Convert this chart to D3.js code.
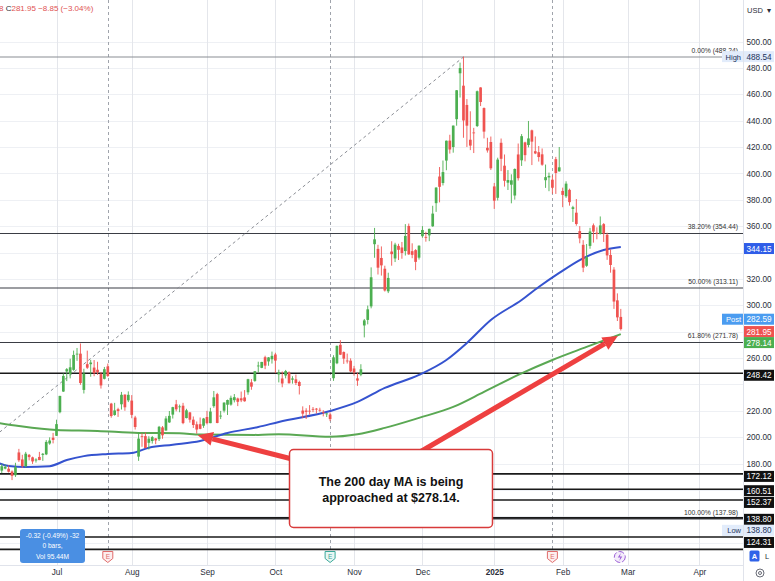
<!DOCTYPE html>
<html>
<head>
<meta charset="utf-8">
<script src="https://cdn.jsdelivr.net/npm/d3@7"></script>
<style>
body { margin: 0; background: #fff; }
svg { display: block; font-family: "Liberation Sans", Arial, sans-serif; }
</style>
</head>
<body>
<svg width="775" height="581"></svg>
<script>
// daily candles: date, open, high, low, close
var candles = [
	['2024-06-05',175.35,176.15,172.13,175.00],['2024-06-06',174.60,179.73,172.73,177.94],['2024-06-07',176.13,179.35,175.58,177.48],
	['2024-06-10',176.06,178.57,173.17,173.79],['2024-06-11',173.92,174.75,167.41,170.66],['2024-06-12',171.12,180.55,169.80,177.29],
	['2024-06-13',188.39,191.08,181.23,182.47],['2024-06-14',183.08,186.61,176.67,178.01],['2024-06-17',177.92,188.81,177.00,187.44],
	['2024-06-18',186.56,187.20,182.37,184.86],['2024-06-20',184.68,185.21,179.66,181.57],['2024-06-21',182.30,183.95,180.69,183.01],
	['2024-06-24',184.97,188.80,182.57,182.58],['2024-06-25',186.54,187.97,182.01,187.35],['2024-06-26',186.92,197.76,186.36,196.37],
	['2024-06-27',195.17,199.84,194.20,197.42],['2024-06-28',199.55,203.20,195.26,197.88],
	['2024-07-01',201.02,213.23,200.85,209.86],['2024-07-02',218.89,231.30,218.06,231.26],['2024-07-03',234.56,248.35,234.25,246.39],
	['2024-07-05',249.81,252.37,242.46,251.52],['2024-07-08',247.71,259.44,244.57,252.94],['2024-07-09',251.00,265.61,250.30,262.33],
	['2024-07-10',262.80,267.59,257.86,263.26],['2024-07-11',263.30,271.00,239.65,241.03],['2024-07-12',235.80,251.84,233.09,248.23],
	['2024-07-15',255.31,265.60,251.73,252.64],['2024-07-16',255.31,258.62,245.80,256.56],['2024-07-17',252.73,258.47,246.18,248.50],
	['2024-07-18',251.09,257.14,247.20,249.23],['2024-07-19',247.79,249.44,236.83,239.20],['2024-07-22',244.21,253.21,243.75,251.51],
	['2024-07-23',253.60,255.76,245.63,246.38],['2024-07-24',225.42,225.99,214.71,215.99],['2024-07-25',216.80,226.00,216.23,220.25],
	['2024-07-26',221.19,222.28,215.33,219.80],['2024-07-29',224.90,234.27,220.91,232.10],['2024-07-30',232.25,232.41,220.00,222.62],
	['2024-07-31',227.90,234.68,226.56,232.07],
	['2024-08-01',227.69,231.87,214.33,216.86],['2024-08-02',214.88,216.13,205.78,207.67],['2024-08-05',185.22,203.88,182.00,198.88],
	['2024-08-06',200.75,202.90,192.67,200.64],['2024-08-07',200.77,203.49,191.48,191.76],['2024-08-08',195.70,200.70,190.60,198.84],
	['2024-08-09',197.05,200.88,195.11,200.00],['2024-08-12',199.02,199.26,194.67,197.49],['2024-08-13',198.47,208.49,197.06,207.83],
	['2024-08-14',207.39,208.44,198.75,201.38],['2024-08-15',205.02,215.88,204.82,214.14],['2024-08-16',211.15,219.80,210.80,216.12],
	['2024-08-19',217.07,222.98,214.09,222.72],['2024-08-20',224.88,228.22,219.56,221.10],['2024-08-21',222.67,224.66,218.86,223.27],
	['2024-08-22',223.82,225.99,209.80,210.66],['2024-08-23',214.46,221.48,214.21,220.32],['2024-08-26',218.75,219.09,211.01,213.21],
	['2024-08-27',213.25,215.66,206.94,209.21],['2024-08-28',209.72,211.84,202.59,205.75],['2024-08-29',209.80,214.89,205.97,206.28],
	['2024-08-30',208.63,214.57,207.03,214.11],
	['2024-09-03',215.26,219.90,209.64,210.60],['2024-09-04',210.59,222.22,210.57,219.41],['2024-09-05',223.49,235.00,222.25,230.17],
	['2024-09-06',232.60,233.60,210.51,210.73],['2024-09-09',216.20,219.87,213.67,216.27],['2024-09-10',220.07,226.40,218.64,226.17],
	['2024-09-11',224.55,228.47,216.80,228.13],['2024-09-12',224.66,231.45,223.83,229.81],['2024-09-13',228.00,232.67,226.32,230.29],
	['2024-09-16',229.30,229.96,223.53,226.78],['2024-09-17',229.45,234.57,226.55,227.87],['2024-09-18',230.09,235.68,226.88,227.20],
	['2024-09-19',234.00,244.24,232.13,243.92],['2024-09-20',241.52,243.99,235.92,238.25],['2024-09-23',242.61,250.00,241.92,250.00],
	['2024-09-24',254.08,257.19,249.05,254.27],['2024-09-25',252.54,257.05,252.28,257.02],['2024-09-26',260.60,261.75,251.53,254.22],
	['2024-09-27',257.38,260.70,254.12,260.46],['2024-09-30',259.04,264.86,255.77,261.63],
	['2024-10-01',262.67,263.98,248.53,258.02],['2024-10-02',247.55,251.16,241.50,249.02],['2024-10-03',244.48,249.79,237.81,240.66],
	['2024-10-04',246.69,250.96,244.58,250.08],['2024-10-07',249.00,249.83,240.70,240.83],['2024-10-08',243.56,246.21,240.56,244.50],
	['2024-10-09',243.82,247.43,239.51,241.05],['2024-10-10',241.81,242.79,232.34,238.77],['2024-10-11',220.13,223.34,214.38,217.80],
	['2024-10-14',220.13,221.91,213.74,219.16],['2024-10-15',220.01,224.26,217.12,219.57],['2024-10-16',221.40,222.82,218.93,221.33],
	['2024-10-17',221.59,222.08,217.90,220.89],['2024-10-18',220.71,222.28,219.23,220.70],['2024-10-21',218.90,220.48,215.73,218.85],
	['2024-10-22',217.31,218.22,215.26,217.97],['2024-10-23',217.13,218.72,212.11,213.65],['2024-10-24',244.68,262.12,242.65,260.48],
	['2024-10-25',256.01,269.49,255.32,269.19],['2024-10-28',270.00,273.54,262.24,262.51],['2024-10-29',264.51,264.98,255.51,259.52],
	['2024-10-30',258.04,263.35,255.82,257.55],['2024-10-31',257.99,259.75,249.25,249.85],
	['2024-11-01',252.04,254.00,246.63,248.98],['2024-11-04',244.56,248.90,238.88,242.84],['2024-11-05',247.34,255.28,246.21,251.44],
	['2024-11-06',284.67,289.59,275.62,288.53],['2024-11-07',288.89,299.75,285.52,296.91],['2024-11-08',299.14,328.71,297.66,321.22],
	['2024-11-11',346.30,358.64,336.00,350.00],['2024-11-12',342.74,345.84,323.31,328.49],['2024-11-13',335.85,344.60,322.50,330.24],
	['2024-11-14',327.69,329.98,310.37,311.18],['2024-11-15',310.57,324.68,309.22,320.72],['2024-11-18',340.73,348.55,330.01,338.74],
	['2024-11-19',335.50,347.38,332.75,346.00],['2024-11-20',345.00,346.60,334.30,342.03],['2024-11-21',343.81,347.99,335.28,339.64],
	['2024-11-22',341.09,361.53,337.70,352.56],['2024-11-25',360.14,361.93,338.20,338.59],['2024-11-26',341.00,346.96,335.66,338.23],
	['2024-11-27',341.80,342.55,326.59,332.89],['2024-11-29',336.08,345.45,334.65,345.16],
	['2024-12-02',352.38,360.00,351.15,357.09],['2024-12-03',351.80,355.69,348.20,351.42],['2024-12-04',353.00,358.10,348.60,357.93],
	['2024-12-05',359.87,375.43,359.50,369.49],['2024-12-06',377.42,389.49,370.80,389.22],['2024-12-09',397.61,404.80,378.01,389.79],
	['2024-12-10',392.68,409.73,390.85,400.99],['2024-12-11',409.70,424.88,402.38,424.77],['2024-12-12',424.84,429.30,415.00,418.10],
	['2024-12-13',420.00,436.30,415.71,436.23],['2024-12-16',441.09,463.19,436.15,463.02],['2024-12-17',475.90,483.99,457.51,479.86],
	['2024-12-18',466.50,488.54,427.01,440.13],['2024-12-19',451.88,456.36,420.02,436.17],['2024-12-20',425.51,447.08,417.64,421.06],
	['2024-12-23',431.00,434.51,415.41,430.60],['2024-12-24',435.90,462.78,435.14,462.28],['2024-12-26',465.16,465.33,451.02,454.13],
	['2024-12-27',449.52,450.00,426.50,431.66],['2024-12-30',419.40,427.00,415.75,417.41],['2024-12-31',423.79,427.93,402.54,403.84],
	['2025-01-02',390.10,392.73,373.04,379.28],['2025-01-03',381.48,411.88,379.45,410.44],['2025-01-06',423.20,426.43,401.70,411.05],
	['2025-01-07',405.83,414.33,390.00,394.36],['2025-01-08',392.95,402.50,387.40,394.94],['2025-01-10',391.40,399.28,377.29,394.74],
	['2025-01-13',383.21,403.79,380.07,403.31],['2025-01-14',414.34,422.64,394.54,396.36],['2025-01-15',409.90,429.80,405.66,428.22],
	['2025-01-16',423.49,424.00,409.13,413.82],['2025-01-17',421.50,439.74,419.75,426.50],['2025-01-21',432.64,433.20,406.31,424.07],
	['2025-01-22',416.81,428.00,414.59,415.11],['2025-01-23',416.06,420.73,408.95,412.38],['2025-01-24',414.45,418.88,405.78,406.58],
	['2025-01-27',394.80,406.69,389.00,397.15],['2025-01-28',396.91,400.59,386.50,398.09],['2025-01-29',395.21,398.59,384.48,389.10],
	['2025-01-30',410.78,412.50,384.41,400.28],['2025-01-31',401.53,419.99,401.34,404.60],
	['2025-02-03',386.68,389.17,374.36,383.68],['2025-02-04',382.63,394.00,381.40,392.21],['2025-02-05',387.51,388.39,375.53,378.17],
	['2025-02-06',373.03,375.40,363.18,374.32],['2025-02-07',370.19,380.55,360.34,361.62],['2025-02-10',356.21,360.00,347.00,350.73],
	['2025-02-11',345.80,349.37,325.10,328.50],['2025-02-12',329.94,346.40,329.12,336.51],['2025-02-13',345.00,358.69,342.85,355.94],
	['2025-02-14',360.62,362.00,347.50,355.84],['2025-02-18',355.01,359.10,350.02,354.11],['2025-02-19',354.00,367.34,353.67,360.56],
	['2025-02-20',361.51,362.30,348.00,354.40],['2025-02-21',353.44,354.98,334.42,337.80],['2025-02-24',338.14,342.40,324.70,330.53],
	['2025-02-25',327.02,328.89,297.25,302.80],['2025-02-26',303.71,309.00,288.04,290.80],['2025-02-27',291.16,297.23,280.88,281.95]
];

// moving averages: [date, value]
var ma100 = [
	['2024-06-05',180.4],['2024-06-10',178.1],['2024-06-17',177.4],['2024-06-27',178.0],['2024-07-05',182.6],
	['2024-07-12',185.6],['2024-07-23',187.2],['2024-08-01',188.0],['2024-08-08',192.0],['2024-08-19',194.3],
	['2024-08-29',197.1],['2024-09-11',203.2],['2024-09-24',207.7],['2024-10-02',211.5],['2024-10-23',219.8],
	['2024-11-04',226.7],['2024-11-14',237.3],['2024-11-29',247.2],['2024-12-11',258.5],['2024-12-19',271.4],
	['2024-12-31',288.8],['2025-01-15',304.0],['2025-01-23',313.8],['2025-01-31',324.5],['2025-02-10',334.3],
	['2025-02-20',341.9],['2025-02-27',344.15]
];
var ma200 = [
	['2024-06-05',210.7],['2024-06-13',208.4],['2024-07-01',205.4],['2024-07-18',204.7],['2024-08-05',203.2],
	['2024-08-21',203.0],['2024-08-29',201.9],['2024-09-24',201.7],['2024-10-02',202.2],['2024-10-23',200.3],
	['2024-11-04',202.2],['2024-11-14',207.0],['2024-11-29',214.6],['2024-12-13',222.9],['2024-12-27',234.3],
	['2025-01-14',247.2],['2025-01-29',258.5],['2025-02-12',268.4],['2025-02-27',278.14]
];

var postPrice = 282.59;
var highPrice = 488.54;
var lowPrice = 138.80;
var fibHigh = 488.24, fibLow = 137.98;
var fibLowDate = '2024-04-22', fibHighDate = '2024-12-18';
var fibLevels = [0, 0.382, 0.5, 0.618, 1];
var userLines = [248.42, 172.12, 160.51, 152.37, 138.80, 124.31, 114.9];
var earnings = ['2024-07-23', '2024-10-23', '2025-01-29'];
var earningsColor = ['#e06c6c', '#3aa99a', '#e06c6c'];
var priceTicks = [120, 140, 160, 180, 200, 220, 240, 260, 280, 300, 320, 340, 360, 380, 400, 420, 440, 460, 480, 500];
var monthStarts = ['2024-07-01','2024-08-01','2024-09-03','2024-10-01','2024-11-01','2024-12-02','2025-01-02','2025-02-03','2025-03-03','2025-04-01'];
var monthLabels = ['Jul','Aug','Sep','Oct','Nov','Dec','2025','Feb','Mar','Apr'];
var holidays = ['2024-05-27','2024-06-19','2024-07-04','2024-09-02','2024-11-28','2024-12-25','2025-01-01','2025-01-09','2025-01-20','2025-02-17','2025-04-18'];

var svg = d3.select('svg');
var plotW = 743.5, plotH = 565.5;
var upColor = '#4caf50', downColor = '#ef5350';

var parse = d3.utcParse('%Y-%m-%d');
var fmtDay = d3.utcFormat('%Y-%m-%d');
var origin = parse('2024-07-01');

// bar index counted in trading days from Jul 1
function tradingIndex(s) {
	var t = parse(s);
	var days = t >= origin ? d3.utcDay.range(origin, t) : d3.utcDay.range(t, origin);
	var n = 0;
	days.forEach(function (d) {
		var w = d.getUTCDay();
		if (w > 0 && w < 6 && holidays.indexOf(fmtDay(d)) < 0) n++;
	});
	return t >= origin ? n : -n;
}

var x = d3.scaleLinear().domain([0, 165]).range([56.5, 620.8]);
var y = d3.scaleLinear().domain([500, 180]).range([41.5, 463.5]);
var f2 = d3.format('.2f');

// grid
var grid = svg.append('g');
grid.selectAll('.hg').data(priceTicks).enter().append('line')
	.attr('x1', 0).attr('x2', plotW)
	.attr('y1', function (d) { return Math.round(y(d)) + 0.5; })
	.attr('y2', function (d) { return Math.round(y(d)) + 0.5; })
	.attr('stroke', '#eef0f4');
grid.selectAll('.vg').data(monthStarts).enter().append('line')
	.attr('x1', function (d) { return Math.round(x(tradingIndex(d))) + 0.5; })
	.attr('x2', function (d) { return Math.round(x(tradingIndex(d))) + 0.5; })
	.attr('y1', 0).attr('y2', plotH)
	.attr('stroke', '#e4e6eb');
grid.selectAll('.eg').data(earnings).enter().append('line')
	.attr('x1', function (d) { return Math.round(x(tradingIndex(d))) + 0.5; })
	.attr('x2', function (d) { return Math.round(x(tradingIndex(d))) + 0.5; })
	.attr('y1', 0).attr('y2', 550)
	.attr('stroke', '#a0a4ac').attr('stroke-dasharray', '3,3');

var plot = svg.append('g');

// fibonacci levels
fibLevels.forEach(function (lv) {
	var p = fibHigh - lv * (fibHigh - fibLow);
	plot.append('line').attr('x1', 0).attr('x2', plotW)
		.attr('y1', y(p)).attr('y2', y(p))
		.attr('stroke', lv === 0 ? '#8a8d94' : '#3a3d44').attr('stroke-width', 1.1);
	plot.append('text').attr('x', 738).attr('y', y(p) - 4)
		.attr('text-anchor', 'end').attr('font-size', 6.8).attr('fill', '#333')
		.text(f2(lv * 100) + '% (' + f2(p) + ')');
});

// trend line low -> high
plot.append('line')
	.attr('x1', x(tradingIndex(fibLowDate))).attr('y1', y(fibLow))
	.attr('x2', x(tradingIndex(fibHighDate))).attr('y2', y(fibHigh))
	.attr('stroke', '#8a8d94').attr('stroke-width', 1).attr('stroke-dasharray', '3,3');

// horizontal levels
plot.selectAll('.ul').data(userLines).enter().append('line')
	.attr('x1', 0).attr('x2', plotW)
	.attr('y1', function (d) { return y(d); }).attr('y2', function (d) { return y(d); })
	.attr('stroke', '#1a1a1a').attr('stroke-width', 1.6);

// moving averages
var maLine = d3.line()
	.x(function (d) { return x(tradingIndex(d[0])); })
	.y(function (d) { return y(d[1]); })
	.curve(d3.curveMonotoneX);
plot.append('path').attr('d', maLine(ma200)).attr('fill', 'none').attr('stroke', '#5aa853').attr('stroke-width', 2);
plot.append('path').attr('d', maLine(ma100)).attr('fill', 'none').attr('stroke', '#3553cf').attr('stroke-width', 2);

// candles
var cg = plot.selectAll('.candle').data(candles).enter().append('g')
	.attr('transform', function (d) { return 'translate(' + x(tradingIndex(d[0])) + ',0)'; });
cg.append('line')
	.attr('y1', function (d) { return y(d[2]); }).attr('y2', function (d) { return y(d[3]); })
	.attr('stroke', function (d) { return d[4] >= d[1] ? upColor : downColor; }).attr('stroke-width', 0.9);
cg.append('rect')
	.attr('x', -1.35).attr('width', 2.7)
	.attr('y', function (d) { return y(Math.max(d[1], d[4])); })
	.attr('height', function (d) { return Math.max(0.8, Math.abs(y(d[1]) - y(d[4]))); })
	.attr('fill', function (d) { return d[4] >= d[1] ? upColor : downColor; });

// arrows + note
function arrow(x1, y1, x2, y2) {
	var dx = x2 - x1, dy = y2 - y1, len = Math.sqrt(dx * dx + dy * dy);
	var ux = dx / len, uy = dy / len, hl = 15, hw = 7;
	var bx = x2 - ux * hl, by = y2 - uy * hl;
	plot.append('line').attr('x1', x1).attr('y1', y1).attr('x2', bx).attr('y2', by)
		.attr('stroke', '#ee4040').attr('stroke-width', 5);
	plot.append('path')
		.attr('d', 'M' + x2 + ',' + y2 + 'L' + (bx - uy * hw) + ',' + (by + ux * hw) + 'L' + (bx + uy * hw) + ',' + (by - ux * hw) + 'Z')
		.attr('fill', '#ee4040');
}
var lastIdx = tradingIndex(candles[candles.length - 1][0]);
arrow(420, 452, x(lastIdx) - 3, y(ma200[ma200.length - 1][1]) + 2);
arrow(292, 459, x(tradingIndex('2024-08-28')) + 1, y(201.5));

plot.append('rect').attr('x', 289.5).attr('y', 449.5).attr('width', 203).attr('height', 78).attr('rx', 4)
	.attr('fill', '#fff').attr('stroke', '#d83a3a').attr('stroke-width', 1.5);
plot.append('text').attr('x', 391).attr('y', 486).attr('text-anchor', 'middle')
	.attr('font-size', 12.5).attr('font-weight', 'bold').attr('fill', '#111').text('The 200 day MA is being');
plot.append('text').attr('x', 391).attr('y', 502).attr('text-anchor', 'middle')
	.attr('font-size', 12.5).attr('font-weight', 'bold').attr('fill', '#111').text('approached at $278.14.');

// axes borders
svg.append('line').attr('x1', plotW).attr('x2', plotW).attr('y1', 0).attr('y2', 581).attr('stroke', '#e0e3eb');
svg.append('line').attr('x1', 0).attr('x2', plotW).attr('y1', plotH).attr('y2', plotH).attr('stroke', '#e0e3eb');

// axis tags (value labels on the price scale)
var lastClose = candles[candles.length - 1][4];
var tags = [
	{ v: highPrice, bg: '#e2ecfb', fg: '#22335a', side: 'High', dy: 0 },
	{ v: ma100[ma100.length - 1][1], bg: '#2f5de8', fg: '#fff', dy: 1.5 },
	{ v: postPrice, bg: '#4b9cf0', fg: '#fff', side: 'Post', sideBg: '#4b9cf0', sideFg: '#fff', dy: -9 },
	{ v: lastClose, bg: '#ef5350', fg: '#fff', dy: 2.5 },
	{ v: ma200[ma200.length - 1][1], bg: '#4caf50', fg: '#fff', dy: 8.5 },
	{ v: 248.42, bg: '#111', fg: '#fff', dy: 2 },
	{ v: 172.12, bg: '#111', fg: '#fff', dy: 2.5 },
	{ v: 160.51, bg: '#111', fg: '#fff', dy: 1.5 },
	{ v: 152.37, bg: '#111', fg: '#fff', dy: 2.5 },
	{ v: 138.80, bg: '#111', fg: '#fff', dy: 1.5 },
	{ v: lowPrice, bg: '#e2ecfb', fg: '#22335a', side: 'Low', dy: 12.5 },
	{ v: 124.31, bg: '#111', fg: '#fff', dy: 5.5 }
];
tags.forEach(function (t) { t.y = y(t.v) + t.dy; });

// price axis
var yAxis = d3.axisRight(y).tickValues(priceTicks.filter(function (p) {
	return y(p) < 548 && tags.every(function (t) { return Math.abs(t.y - y(p)) > 10; });
})).tickSize(0).tickPadding(0).tickFormat(f2);
var ya = svg.append('g').attr('transform', 'translate(759,0)').call(yAxis);
ya.select('.domain').remove();
ya.selectAll('text').attr('text-anchor', 'middle').attr('font-size', 8.2).attr('fill', '#2a2e39')
	.attr('font-family', '"Liberation Sans", Arial, sans-serif');

var tg = svg.selectAll('.tag').data(tags).enter().append('g');
tg.append('rect').attr('x', 744).attr('width', 30).attr('height', 11)
	.attr('y', function (t) { return t.y - 5.5; }).attr('fill', function (t) { return t.bg; });
tg.append('text').attr('x', 759).attr('y', function (t) { return t.y + 3; })
	.attr('text-anchor', 'middle').attr('font-size', 8.2).attr('fill', function (t) { return t.fg; })
	.text(function (t) { return f2(t.v); });
tg.filter(function (t) { return t.side; }).append('rect')
	.attr('x', 722).attr('width', 21).attr('height', 11).attr('y', function (t) { return t.y - 5.5; })
	.attr('fill', function (t) { return t.sideBg || t.bg; });
tg.filter(function (t) { return t.side; }).append('text')
	.attr('x', 741).attr('y', function (t) { return t.y + 3; }).attr('text-anchor', 'end')
	.attr('font-size', 7.5).attr('fill', function (t) { return t.sideFg || t.fg; })
	.text(function (t) { return t.side; });

// time axis
var xAxis = d3.axisBottom(x).tickValues(monthStarts.map(tradingIndex))
	.tickSize(0).tickPadding(0).tickFormat(function (d, i) { return monthLabels[i]; });
var xa = svg.append('g').attr('transform', 'translate(0,569)').call(xAxis);
xa.select('.domain').remove();
xa.selectAll('text').attr('font-size', 8.2).attr('fill', '#2a2e39')
	.attr('font-family', '"Liberation Sans", Arial, sans-serif')
	.attr('font-weight', function (d, i) { return monthLabels[i] === '2025' ? 'bold' : 'normal'; });

// event markers
earnings.forEach(function (d, i) {
	var cx = x(tradingIndex(d)), c = earningsColor[i];
	svg.append('path').attr('d', 'M' + (cx - 5) + ',551.5h10v7l-5,4l-5,-4z')
		.attr('fill', i === 1 ? '#e8f6f3' : '#fdeeee').attr('stroke', c).attr('stroke-width', 1);
	svg.append('text').attr('x', cx).attr('y', 559).attr('text-anchor', 'middle')
		.attr('font-size', 6.5).attr('fill', c).text('E');
});
var dvx = x(lastIdx) - 1;
svg.append('circle').attr('cx', dvx).attr('cy', 557).attr('r', 5.5)
	.attr('fill', '#f4ecfb').attr('stroke', '#9b5fd6').attr('stroke-width', 1).attr('stroke-dasharray', '6,2');
svg.append('path').attr('d', 'M' + (dvx + 1) + ',553l-3,4.5h2.5l-1,3.5l3,-4.5h-2.5z').attr('fill', '#9b5fd6');

// info box
var ib = svg.append('g');
ib.append('rect').attr('x', 20).attr('y', 529).attr('width', 65).attr('height', 34).attr('rx', 3).attr('fill', '#4a8fe3');
['-0.32 (-0.49%) -32', '0 bars,', 'Vol 95.44M'].forEach(function (s, i) {
	ib.append('text').attr('x', 52.5).attr('y', 537.5 + i * 10.5).attr('text-anchor', 'middle')
		.attr('font-size', 6.6).attr('fill', '#fff').text(s);
});

// legend / header text
var hd = svg.append('text').attr('x', -1).attr('y', 11).attr('font-size', 8);
hd.append('tspan').attr('fill', '#e05252').text('8 ');
hd.append('tspan').attr('fill', '#2a2e39').text('C');
hd.append('tspan').attr('fill', '#e05252').text('281.95 \u22128.85 (\u22123.04%)');

svg.append('text').attr('x', 747).attr('y', 13).attr('font-size', 7.5).attr('fill', '#2a2e39').text('USD');
svg.append('text').attr('x', 767).attr('y', 13).attr('font-size', 7.5).attr('fill', '#2a2e39').text('\u25be');

// A / L buttons and settings icon
svg.append('rect').attr('x', 749.5).attr('y', 550.5).attr('width', 10).attr('height', 11).attr('rx', 1.5).attr('fill', '#2f62e8');
svg.append('text').attr('x', 754.5).attr('y', 559).attr('text-anchor', 'middle').attr('font-size', 7.5)
	.attr('font-weight', 'bold').attr('fill', '#fff').text('A');
svg.append('text').attr('x', 767).attr('y', 559).attr('text-anchor', 'middle').attr('font-size', 7.5)
	.attr('fill', '#2a2e39').text('L');
svg.append('circle').attr('cx', 760).attr('cy', 573).attr('r', 4).attr('fill', 'none').attr('stroke', '#6a6d78');
svg.append('circle').attr('cx', 760).attr('cy', 573).attr('r', 1.5).attr('fill', 'none').attr('stroke', '#6a6d78');
</script>
</body>
</html>
